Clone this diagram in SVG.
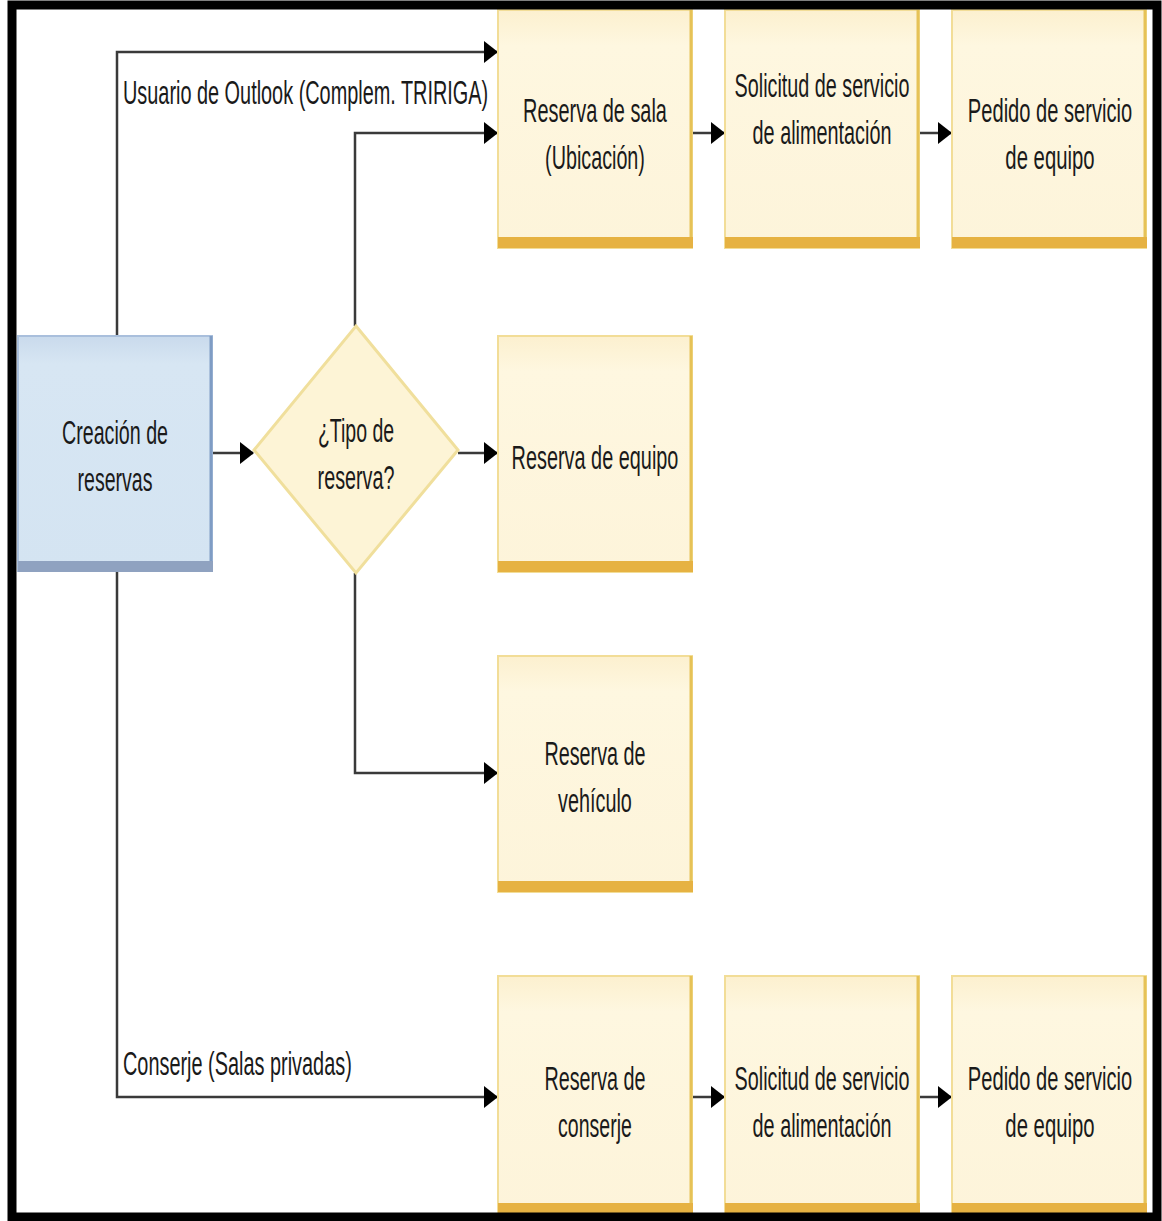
<svg xmlns="http://www.w3.org/2000/svg" width="1162" height="1221" viewBox="0 0 1162 1221">
  <style>
    .lbl { font-family: "Liberation Sans", Arial, sans-serif; font-size: 33px; fill: #1a1a1a; }
    .mid { text-anchor: middle; }
    .task .body { fill: url(#taskFill); stroke: #f2dd97; stroke-width: 2; }
    .task .edge { stroke: #e6c257; stroke-width: 3; fill: none; }
    .task .band { fill: #e6b242; }
    .start .body { fill: url(#startFill); stroke: #a9bfdc; stroke-width: 2; }
    .start .edge { stroke: #7f9cc4; stroke-width: 3; fill: none; }
    .start .band { fill: #8fa2c0; }
    .decision { fill: #fdf4d6; stroke: #f0df9c; stroke-width: 3; }
    .link { fill: none; stroke: #3a3a3a; stroke-width: 2.5; }
    .frame { fill: none; stroke: #000; stroke-width: 9; }
  </style>
  <defs>
    <linearGradient id="taskFill" x1="0" y1="0" x2="0" y2="1">
      <stop offset="0" stop-color="#fcf0cf"/>
      <stop offset="0.15" stop-color="#fef7e0"/>
      <stop offset="1" stop-color="#fdf4da"/>
    </linearGradient>
    <linearGradient id="startFill" x1="0" y1="0" x2="0" y2="1">
      <stop offset="0" stop-color="#c9daec"/>
      <stop offset="0.12" stop-color="#d7e6f3"/>
      <stop offset="1" stop-color="#d4e4f2"/>
    </linearGradient>
    <marker id="arrow" markerUnits="userSpaceOnUse" markerWidth="14" markerHeight="22" refX="13" refY="11" orient="auto">
      <path d="M0,0 L14,11 L0,22 z" fill="#000"/>
    </marker>
  </defs>

  <rect x="0" y="0" width="1162" height="1221" fill="#fff"/>

  <!-- connectors -->
  <g id="connectors">
    <path class="link" d="M117,335 V52 H497" marker-end="url(#arrow)"/>
    <path class="link" d="M355,326 V133 H497" marker-end="url(#arrow)"/>
    <path class="link" d="M355,573 V773 H497" marker-end="url(#arrow)"/>
    <path class="link" d="M117,572 V1097 H497" marker-end="url(#arrow)"/>
    <path class="link" d="M213,453 H253" marker-end="url(#arrow)"/>
    <path class="link" d="M458,453 H497" marker-end="url(#arrow)"/>
    <path class="link" d="M693,133 H724" marker-end="url(#arrow)"/>
    <path class="link" d="M920,133 H951" marker-end="url(#arrow)"/>
    <path class="link" d="M693,1097 H724" marker-end="url(#arrow)"/>
    <path class="link" d="M920,1097 H951" marker-end="url(#arrow)"/>
    <text class="lbl" transform="translate(123,104) scale(0.62,1)" textLength="589" lengthAdjust="spacingAndGlyphs">Usuario de Outlook (Complem. TRIRIGA)</text>
    <text class="lbl" transform="translate(123,1075) scale(0.62,1)" textLength="369" lengthAdjust="spacingAndGlyphs">Conserje (Salas privadas)</text>
  </g>

  <!-- start node -->
  <g id="creacion" class="start">
    <rect class="body" x="18" y="336" width="194" height="235"/>
    <line class="edge" x1="211" y1="336" x2="211" y2="571"/>
    <rect class="band" x="18" y="561" width="195" height="11"/>
    <text class="lbl mid" transform="translate(115,444) scale(0.62,1)" textLength="171" lengthAdjust="spacingAndGlyphs">Creación de</text>
    <text class="lbl mid" transform="translate(115,491) scale(0.62,1)" textLength="121" lengthAdjust="spacingAndGlyphs">reservas</text>
  </g>

  <!-- decision -->
  <g id="tipo">
    <polygon class="decision" points="356,326 458,450 356,573 254,450"/>
    <text class="lbl mid" transform="translate(356,442) scale(0.62,1)" textLength="123" lengthAdjust="spacingAndGlyphs">¿Tipo de</text>
    <text class="lbl mid" transform="translate(356,489) scale(0.62,1)" textLength="124" lengthAdjust="spacingAndGlyphs">reserva?</text>
  </g>

  <!-- row 1 -->
  <g id="sala" class="task">
    <rect class="body" x="498" y="10" width="194" height="238"/>
    <line class="edge" x1="691" y1="10" x2="691" y2="248"/>
    <rect class="band" x="498" y="237" width="195" height="11"/>
    <text class="lbl mid" transform="translate(595,122) scale(0.62,1)" textLength="232" lengthAdjust="spacingAndGlyphs">Reserva de sala</text>
    <text class="lbl mid" transform="translate(595,169) scale(0.62,1)" textLength="161" lengthAdjust="spacingAndGlyphs">(Ubicación)</text>
  </g>
  <g id="alimentacion1" class="task">
    <rect class="body" x="725" y="10" width="194" height="238"/>
    <line class="edge" x1="918" y1="10" x2="918" y2="248"/>
    <rect class="band" x="725" y="237" width="195" height="11"/>
    <text class="lbl mid" transform="translate(822,97) scale(0.62,1)" textLength="282" lengthAdjust="spacingAndGlyphs">Solicitud de servicio</text>
    <text class="lbl mid" transform="translate(822,144) scale(0.62,1)" textLength="224" lengthAdjust="spacingAndGlyphs">de alimentación</text>
  </g>
  <g id="equipo1" class="task">
    <rect class="body" x="952" y="10" width="194" height="238"/>
    <line class="edge" x1="1145" y1="10" x2="1145" y2="248"/>
    <rect class="band" x="952" y="237" width="195" height="11"/>
    <text class="lbl mid" transform="translate(1050,122) scale(0.62,1)" textLength="265" lengthAdjust="spacingAndGlyphs">Pedido de servicio</text>
    <text class="lbl mid" transform="translate(1050,169) scale(0.62,1)" textLength="144" lengthAdjust="spacingAndGlyphs">de equipo</text>
  </g>

  <!-- row 2 -->
  <g id="resEquipo" class="task">
    <rect class="body" x="498" y="336" width="194" height="236"/>
    <line class="edge" x1="691" y1="336" x2="691" y2="572"/>
    <rect class="band" x="498" y="561" width="195" height="11"/>
    <text class="lbl mid" transform="translate(595,469) scale(0.62,1)" textLength="269" lengthAdjust="spacingAndGlyphs">Reserva de equipo</text>
  </g>

  <!-- row 3 -->
  <g id="resVehiculo" class="task">
    <rect class="body" x="498" y="656" width="194" height="236"/>
    <line class="edge" x1="691" y1="656" x2="691" y2="892"/>
    <rect class="band" x="498" y="881" width="195" height="11"/>
    <text class="lbl mid" transform="translate(595,765) scale(0.62,1)" textLength="163" lengthAdjust="spacingAndGlyphs">Reserva de</text>
    <text class="lbl mid" transform="translate(595,812) scale(0.62,1)" textLength="119" lengthAdjust="spacingAndGlyphs">vehículo</text>
  </g>

  <!-- row 4 -->
  <g id="resConserje" class="task">
    <rect class="body" x="498" y="976" width="194" height="239"/>
    <line class="edge" x1="691" y1="976" x2="691" y2="1215"/>
    <rect class="band" x="498" y="1203" width="195" height="12"/>
    <text class="lbl mid" transform="translate(595,1090) scale(0.62,1)" textLength="163" lengthAdjust="spacingAndGlyphs">Reserva de</text>
    <text class="lbl mid" transform="translate(595,1137) scale(0.62,1)" textLength="119" lengthAdjust="spacingAndGlyphs">conserje</text>
  </g>
  <g id="alimentacion2" class="task">
    <rect class="body" x="725" y="976" width="194" height="239"/>
    <line class="edge" x1="918" y1="976" x2="918" y2="1215"/>
    <rect class="band" x="725" y="1203" width="195" height="12"/>
    <text class="lbl mid" transform="translate(822,1090) scale(0.62,1)" textLength="282" lengthAdjust="spacingAndGlyphs">Solicitud de servicio</text>
    <text class="lbl mid" transform="translate(822,1137) scale(0.62,1)" textLength="224" lengthAdjust="spacingAndGlyphs">de alimentación</text>
  </g>
  <g id="equipo2" class="task">
    <rect class="body" x="952" y="976" width="194" height="239"/>
    <line class="edge" x1="1145" y1="976" x2="1145" y2="1215"/>
    <rect class="band" x="952" y="1203" width="195" height="12"/>
    <text class="lbl mid" transform="translate(1050,1090) scale(0.62,1)" textLength="265" lengthAdjust="spacingAndGlyphs">Pedido de servicio</text>
    <text class="lbl mid" transform="translate(1050,1137) scale(0.62,1)" textLength="144" lengthAdjust="spacingAndGlyphs">de equipo</text>
  </g>

  <!-- outer frame -->
  <rect class="frame" x="12" y="5" width="1145" height="1212"/>
</svg>
